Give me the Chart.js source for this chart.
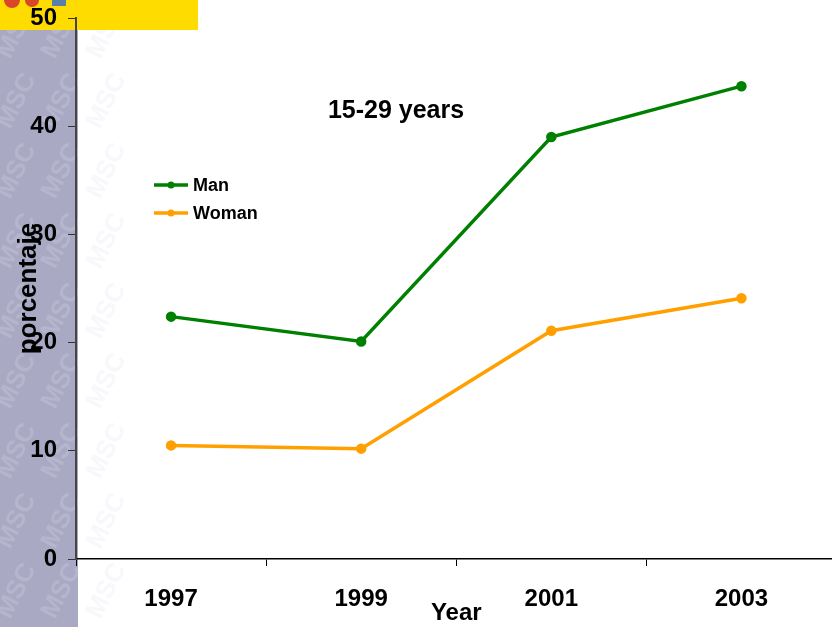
<!DOCTYPE html>
<html>
<head>
<meta charset="utf-8">
<script src="https://cdn.jsdelivr.net/npm/chart.js@4.4.1/dist/chart.umd.min.js"></script>
<style>
    html, body { margin: 0; padding: 0; background: #fff; overflow: hidden; }
    #wrap { width: 844px; height: 627px; }
</style>
</head>
<body>
<div id="wrap"><canvas id="chart" width="844" height="627"></canvas></div>
<script>
// Datos del gráfico
const years = ['1997', '1999', '2001', '2003'];
const manValues = [22.4, 20.1, 39.0, 43.7];
const womanValues = [10.5, 10.2, 21.1, 24.1];
const yTicks = [0, 10, 20, 30, 40, 50];

const FONT = 'Arial, "Liberation Sans", sans-serif';

// Fondo: franja lateral y recuadro amarillo
const backgroundPlugin = {
    id: 'background',
    beforeDraw(chart) {
        const ctx = chart.ctx;
        ctx.save();
        ctx.fillStyle = '#a9a9c3';
        ctx.fillRect(0, 30, 78, 597);
        // marca de agua (muy suave)
        ctx.fillStyle = 'rgba(225, 225, 240, 0.22)';
        ctx.font = 'bold 26px ' + FONT;
        for (let y = 60; y < 640; y += 70) {
            for (let x = -10; x < 90; x += 45) {
                ctx.save();
                ctx.translate(x + (y % 140 ? 20 : 0), y);
                ctx.rotate(-1.1);
                ctx.fillText('MSC', 0, 0);
                ctx.restore();
            }
        }
        ctx.fillStyle = '#ffdc00';
        ctx.fillRect(0, 0, 198, 30);
        // logotipo pequeño
        ctx.fillStyle = '#d9462a';
        ctx.beginPath(); ctx.arc(12, 0, 8, 0, Math.PI * 2); ctx.fill();
        ctx.beginPath(); ctx.arc(32, 0, 7, 0, Math.PI * 2); ctx.fill();
        ctx.fillStyle = '#5a7fa8';
        ctx.fillRect(52, 0, 14, 6);
        ctx.restore();
    }
};

// Título y leyenda dentro del área del gráfico
const overlayPlugin = {
    id: 'overlay',
    afterDraw(chart) {
        const ctx = chart.ctx;
        ctx.save();
        ctx.fillStyle = '#000';
        ctx.font = 'bold 25px ' + FONT;
        ctx.textAlign = 'center';
        ctx.textBaseline = 'middle';
        ctx.fillText('15-29 years', 396, 111);

        ctx.font = 'bold 18px ' + FONT;
        ctx.textAlign = 'left';
        chart.data.datasets.forEach((ds, i) => {
            const y = 185 + i * 28;
            ctx.strokeStyle = ds.borderColor;
            ctx.lineWidth = 3.5;
            ctx.beginPath();
            ctx.moveTo(154, y);
            ctx.lineTo(188, y);
            ctx.stroke();
            ctx.fillStyle = ds.borderColor;
            ctx.beginPath();
            ctx.arc(171, y, 3.5, 0, Math.PI * 2);
            ctx.fill();
            ctx.fillStyle = '#000';
            ctx.fillText(ds.label, 193, y + 1);
        });
        ctx.restore();
    }
};

new Chart(document.getElementById('chart'), {
    type: 'line',
    data: {
        labels: years,
        datasets: [
            {
                label: 'Man',
                data: manValues,
                borderColor: '#008000',
                backgroundColor: '#008000',
                borderWidth: 3.5,
                pointRadius: 3.5,
                tension: 0
            },
            {
                label: 'Woman',
                data: womanValues,
                borderColor: '#ffa000',
                backgroundColor: '#ffa000',
                borderWidth: 3.5,
                pointRadius: 3.5,
                tension: 0
            }
        ]
    },
    options: {
        responsive: false,
        animation: false,
        layout: { padding: { top: 18, right: 0, left: 0, bottom: 0 } },
        plugins: {
            legend: { display: false },
            tooltip: { enabled: false }
        },
        scales: {
            x: {
                offset: true,
                afterFit: (scale) => {
                    scale.height = 68;
                    scale.paddingLeft = 0;
                    scale.paddingRight = 0;
                },
                grid: {
                    offset: true,
                    drawOnChartArea: false,
                    drawTicks: true,
                    tickLength: 7,
                    color: '#000'
                },
                border: { color: '#000', width: 1.5 },
                ticks: {
                    color: '#000',
                    padding: 19,
                    font: { family: FONT, size: 24, weight: 'bold' }
                },
                title: {
                    display: true,
                    text: 'Year',
                    color: '#000',
                    padding: { top: 0, bottom: 0 },
                    font: { family: FONT, size: 24, weight: 'bold', lineHeight: 1.1 }
                }
            },
            y: {
                min: 0,
                max: 50,
                afterFit: (scale) => {
                    scale.width = 76;
                    scale.paddingTop = 0;
                    scale.paddingBottom = 0;
                },
                afterBuildTicks: (scale) => {
                    scale.ticks = yTicks.map(v => ({ value: v }));
                },
                grid: {
                    drawOnChartArea: false,
                    drawTicks: true,
                    tickLength: 8,
                    color: '#333'
                },
                border: { color: '#444', width: 2 },
                ticks: {
                    color: '#000',
                    padding: 11,
                    font: { family: FONT, size: 24, weight: 'bold' }
                },
                title: {
                    display: true,
                    text: 'porcentaje',
                    color: '#000',
                    padding: { top: 13, bottom: 0 },
                    font: { family: FONT, size: 26, weight: 'bold' }
                }
            }
        }
    },
    plugins: [backgroundPlugin, overlayPlugin]
});
</script>
</body>
</html>
